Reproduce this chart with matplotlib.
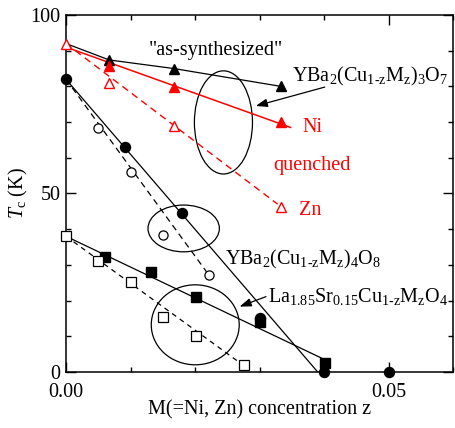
import matplotlib
matplotlib.use("Agg")
import matplotlib.pyplot as plt
from matplotlib.patches import Ellipse
from matplotlib.ticker import MultipleLocator

plt.rcParams['font.family'] = ['Liberation Serif', 'DejaVu Serif']
plt.rcParams['mathtext.fontset'] = 'custom'
plt.rcParams['mathtext.rm'] = 'Liberation Serif'
plt.rcParams['mathtext.it'] = 'Liberation Serif:italic'

# YBa2(Cu1-zMz)3O7, as-synthesized (Ni)
z_123_as = [0.0, 0.0067, 0.0167, 0.0333]
tc_123_as = [92.0, 87.4, 85.0, 80.0]

# YBa2(Cu1-zMz)3O7, quenched
z_123_q = [0.0, 0.0067, 0.0167, 0.0333]
tc_123_ni = [92.0, 85.8, 79.7, 69.9]
tc_123_zn = [92.0, 80.9, 68.9, 46.1]
fit_123_ni = ([0.0, 0.0348], [91.0, 68.5])
fit_123_zn = ([0.0, 0.0328], [92.0, 47.0])

# YBa2(Cu1-zMz)4O8
z_124_ni = [0.0, 0.0091, 0.018, 0.030, 0.040, 0.050]
tc_124_ni = [82.0, 63.1, 44.4, 15.0, 0.0, 0.0]
z_124_zn = [0.005, 0.010, 0.015, 0.0221]
tc_124_zn = [68.2, 56.1, 38.4, 27.2]
fit_124_ni = ([0.0, 0.039], [82.0, 0.0])
fit_124_zn = ([0.0, 0.0222], [82.0, 27.0])

# La1.85Sr0.15Cu1-zMzO4
z_214_ni = [0.0061, 0.0131, 0.0201, 0.030, 0.0401]
tc_214_ni = [32.1, 28.1, 21.1, 14.1, 2.4]
z_214_zn = [0.0, 0.005, 0.010, 0.015, 0.0201, 0.0276]
tc_214_zn = [38.2, 31.2, 25.3, 15.3, 10.2, 2.0]
fit_214_ni = ([0.0, 0.0405], [38.0, 3.1])
fit_214_zn = ([0.0, 0.027], [38.0, 2.5])

red = '#ff0000'
ms = 7.2

fig = plt.figure(figsize=(4.55, 4.28), dpi=100)
ax = fig.add_axes([0.145, 0.131, 0.851, 0.834])

# fit lines
ax.plot(*fit_123_ni, color=red, lw=1.1)
ax.plot(*fit_123_zn, color=red, lw=1.0, ls=(0, (5, 3.5)))
ax.plot(*fit_124_ni, color='k', lw=0.9)
ax.plot(*fit_124_zn, color='k', lw=0.9, ls=(0, (5, 3.5)))
ax.plot(*fit_214_ni, color='k', lw=0.9)
ax.plot(*fit_214_zn, color='k', lw=0.9, ls=(0, (4, 3.5)))

# as-synthesized 123
ax.plot(z_123_as, tc_123_as, color='k', lw=0.9, marker='^', ms=ms,
        markevery=[1, 2, 3])
# quenched 123
ax.plot(z_123_q[1:], tc_123_ni[1:], ls='none', marker='^', ms=ms,
        color=red)
ax.plot(z_123_q, tc_123_zn, ls='none', marker='^', ms=ms,
        mfc='white', mec=red, mew=1.0, clip_on=False, zorder=4)

# 124
ax.plot(z_124_ni, tc_124_ni, ls='none', marker='o', ms=ms, color='k',
        clip_on=False, zorder=4)
ax.plot(z_124_zn, tc_124_zn, ls='none', marker='o', ms=ms - 0.6,
        mfc='white', mec='k', mew=0.9)

# 214
ax.plot(z_214_ni, tc_214_ni, ls='none', marker='s', ms=ms - 0.4,
        color='k', zorder=3)
ax.plot(z_214_zn, tc_214_zn, ls='none', marker='s', ms=ms - 0.4,
        mfc='white', mec='k', mew=0.9, clip_on=False, zorder=4)

# groups
for cx, cy, w, h in [(0.0244, 69.9, 0.0090, 28.9),
                     (0.01824, 40.2, 0.01106, 13.1),
                     (0.02003, 13.2, 0.01363, 22.4)]:
    ax.add_patch(Ellipse((cx, cy), w, h, fill=False, ec='k', lw=0.9))

fs = 14.5
ax.text(0.0128, 88.8, '"as-synthesized"', fontsize=fs)
ax.text(0.0350, 81.5,
        r'YBa$_2$(Cu$_{\mathrm{1\text{-}z}}$M$_\mathrm{z}$)$_3$O$_7$',
        fontsize=fs)
ax.text(0.0366, 67.3, 'Ni', fontsize=fs, color=red)
ax.text(0.0321, 56.6, 'quenched', fontsize=fs, color=red)
ax.text(0.0361, 44.0, 'Zn', fontsize=fs, color=red)
ax.text(0.0247, 30.0,
        r'YBa$_2$(Cu$_{\mathrm{1\text{-}z}}$M$_\mathrm{z}$)$_4$O$_8$',
        fontsize=fs)
ax.text(0.0313, 19.7,
        r'La$_{1.85}$Sr$_{0.15}$Cu$_{\mathrm{1\text{-}z}}$M$_\mathrm{z}$O$_4$',
        fontsize=fs)

arrow = dict(arrowstyle='-|>,head_length=0.7,head_width=0.25', color='k',
             lw=0.9, shrinkA=0, shrinkB=0)
ax.annotate('', xy=(0.0294, 74.5), xytext=(0.0401, 79.8), arrowprops=arrow)
ax.annotate('', xy=(0.0269, 18.3), xytext=(0.0310, 21.1), arrowprops=arrow)

ax.set_xlim(0, 0.06)
ax.set_ylim(0, 100)
ax.set_xticks([0.0, 0.05])
ax.set_xticklabels(['0.00', '0.05'])
ax.set_yticks([0, 50, 100])
ax.xaxis.set_minor_locator(MultipleLocator(0.01))
ax.yaxis.set_minor_locator(MultipleLocator(10))
ax.tick_params(which='both', direction='in', top=True, right=True,
               labelsize=fs, width=1.0)
ax.tick_params(which='major', length=7)
ax.tick_params(axis='x', which='major', pad=8)
ax.tick_params(axis='y', which='major', pad=4)
ax.tick_params(which='minor', length=3.6)
for s in ax.spines.values():
    s.set_linewidth(1.1)

ax.set_xlabel('M(=Ni, Zn) concentration z', fontsize=fs, labelpad=-1)
ax.set_ylabel(r'$T_{\mathrm{c}}$ (K)', fontsize=fs, labelpad=0)

fig.savefig('out.png', dpi=100)
